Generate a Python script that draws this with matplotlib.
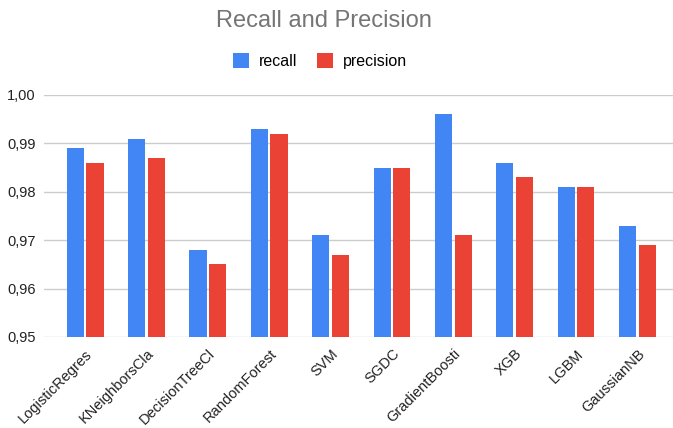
import numpy as np
import matplotlib.pyplot as plt
from matplotlib.ticker import FuncFormatter

models = ['LogisticRegres', 'KNeighborsCla', 'DecisionTreeCl', 'RandomForest', 'SVM',
          'SGDC', 'GradientBoosti', 'XGB', 'LGBM', 'GaussianNB']
recall = [0.989, 0.991, 0.968, 0.993, 0.971, 0.985, 0.996, 0.986, 0.981, 0.973]
precision = [0.986, 0.987, 0.965, 0.992, 0.967, 0.985, 0.971, 0.983, 0.981, 0.969]

plt.rcParams['font.family'] = ['Liberation Sans', 'DejaVu Sans']

fig = plt.figure(figsize=(6.73, 4.28), dpi=100)
ax = fig.add_axes([44/673, 91/428, 629/673, 242/428])

x = np.arange(len(models))
ax.bar(x - 0.16, recall, width=0.28, color='#4285F4', label='recall', zorder=3)
ax.bar(x + 0.16, precision, width=0.28, color='#EA4335', label='precision', zorder=3)

ax.set_ylim(0.95, 1.0)
ax.set_xlim(-0.67, 9.58)
ax.set_yticks([0.95, 0.96, 0.97, 0.98, 0.99, 1.00])
ax.yaxis.set_major_formatter(FuncFormatter(lambda v, p: f'{v:.2f}'.replace('.', ',')))
ax.grid(axis='y', color='#cccccc', linewidth=1, zorder=0)
for s in ax.spines.values():
    s.set_visible(False)
ax.tick_params(axis='both', length=0, labelsize=10.5, labelcolor='#222222')
ax.tick_params(axis='y', pad=6)
ax.tick_params(axis='x', pad=7)
ax.set_xticks(x)
ax.set_xticklabels(models, rotation=45, ha='right', rotation_mode='anchor')

fig.text(0.481, 0.952, 'Recall and Precision', ha='center', va='center',
         fontsize=17, color='#757575')
ax.legend(loc='center', bbox_to_anchor=(0.439, 1.14), ncol=2, frameon=False,
          fontsize=11.5, handlelength=1.0, handleheight=1.1, columnspacing=1.25,
          handletextpad=0.6)

fig.savefig('out.png', dpi=100)
